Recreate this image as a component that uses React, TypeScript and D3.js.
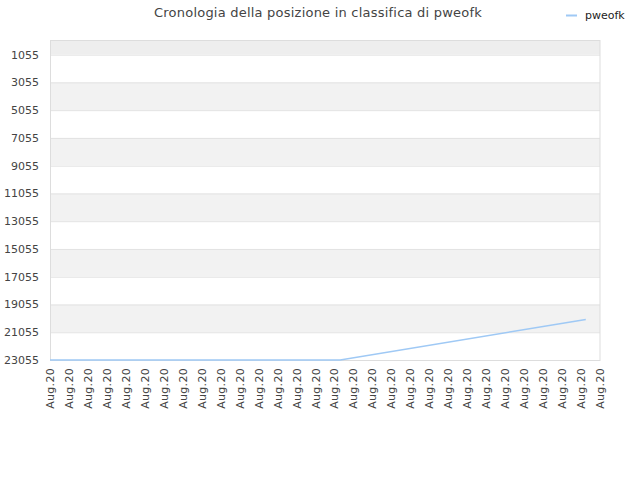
import * as d3 from 'd3';
import React from 'react';

const seriesName = 'pweofk';
const title = 'Cronologia della posizione in classifica di pweofk';
// x positions are day offsets within the month; labels are all "Aug.20"
const tickDays = d3.range(0, 30);
const tickLabel = 'Aug.20';
const yTicks = [1055, 3055, 5055, 7055, 9055, 11055, 13055, 15055, 17055, 19055, 21055, 23055];
const pointDays = [0, 15.3, 28.25];
const pointRanks = [23055, 23055, 20140];

export default function App() {
  const width = 640;
  const height = 480;
  const margin = { top: 40, right: 40, bottom: 120, left: 50 };
  const innerW = width - margin.left - margin.right;
  const innerH = height - margin.top - margin.bottom;

  const x = d3.scaleLinear().domain([0, 29]).range([0, innerW]);
  const y = d3.scaleLinear().domain([0, 23055]).range([0, innerH]);

  const points = pointDays.map((d, i) => [d, pointRanks[i]] as [number, number]);
  const line = d3
    .line<[number, number]>()
    .x((d) => x(d[0]))
    .y((d) => y(d[1]));

  // bands between consecutive ticks, plus the strip above the first tick
  const bandEdges = [0, ...yTicks];
  const bands = bandEdges.slice(0, -1).map((v, i) => ({ from: v, to: bandEdges[i + 1], i }));

  const font = '"DejaVu Sans", sans-serif';

  return (
    <svg
      width={width}
      height={height}
      style={{ position: 'absolute', left: 0, top: 0, background: '#fff' }}
      fontFamily={font}
    >
      <text x={318} y={17} textAnchor="middle" fontSize={13} fill="#444" letterSpacing={0.22}>
        {title}
      </text>
      <line x1={566} x2={577} y1={15.5} y2={15.5} stroke="#9fc9f5" strokeWidth={2} />
      <text x={585} y={19} fontSize={11} fill="#222">
        {seriesName}
      </text>
      <g transform={`translate(${margin.left}, ${margin.top})`}>
        {bands.map((b) => (
          <rect
            key={`band-${b.i}`}
            x={0}
            y={y(b.from)}
            width={innerW}
            height={y(b.to) - y(b.from)}
            fill={b.i === 0 ? '#eeeeee' : b.i % 2 === 0 ? '#f2f2f2' : '#ffffff'}
          />
        ))}
        {yTicks.map((t) => (
          <g key={`yt-${t}`}>
            <line x1={0} x2={innerW} y1={y(t) + 0.5} y2={y(t) + 0.5} stroke="#e2e2e2" />
            <text x={-11} y={y(t) + 4} textAnchor="end" fontSize={11} fill="#444">
              {t}
            </text>
          </g>
        ))}
        <rect x={0.5} y={0.5} width={innerW - 0.5} height={innerH} fill="none" stroke="#dddddd" />
        <path d={line(points) || ''} fill="none" stroke="#9fc9f5" strokeWidth={1.5} />
        {tickDays.map((d) => (
          <text
            key={`xt-${d}`}
            transform={`translate(${x(d) + 4}, ${innerH + 8}) rotate(-90)`}
            textAnchor="end"
            fontSize={11}
            fill="#444"
            letterSpacing={0.3}
          >
            {tickLabel}
          </text>
        ))}
      </g>
    </svg>
  );
}
